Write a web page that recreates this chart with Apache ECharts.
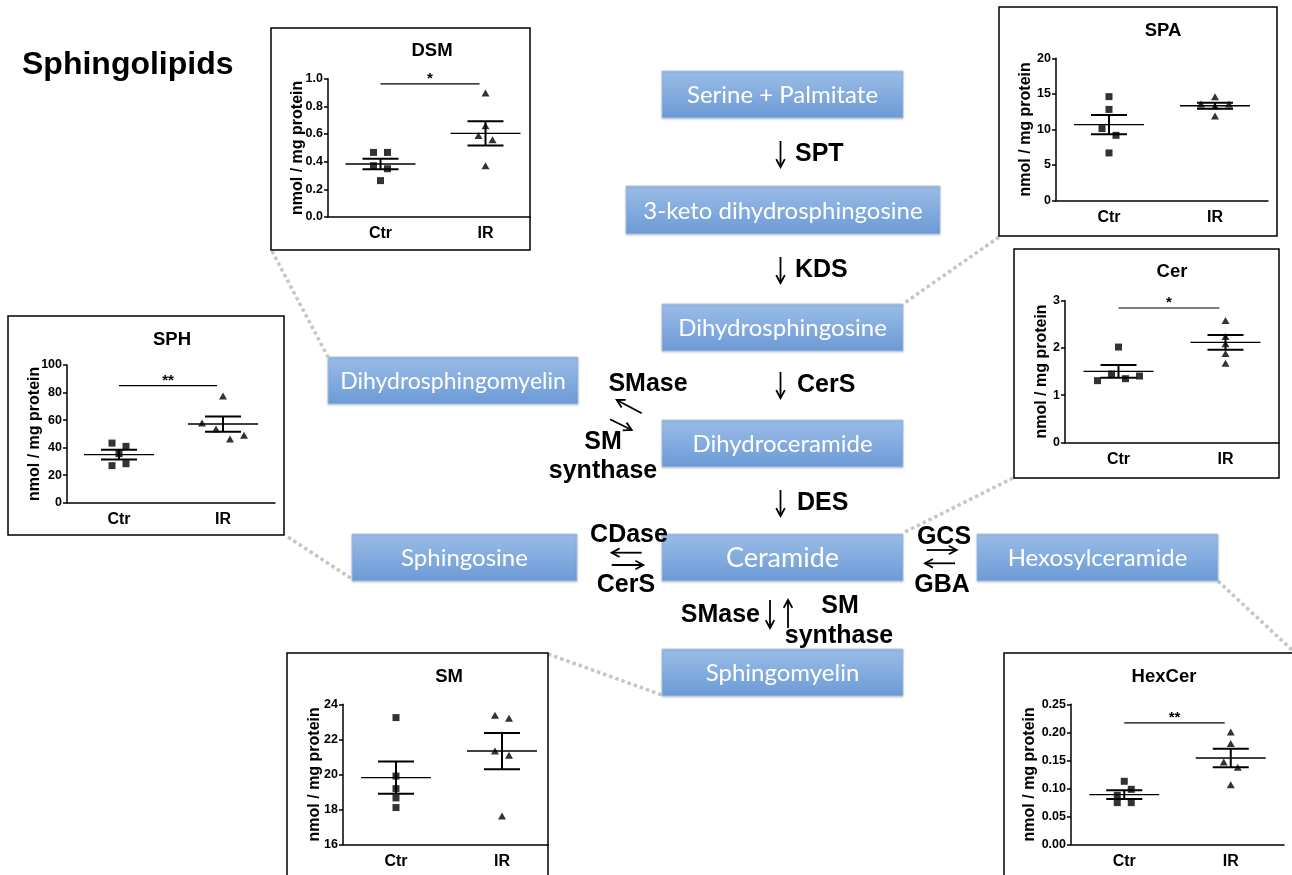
<!DOCTYPE html>
<html>
<head>
<meta charset="utf-8">
<script src="https://cdn.jsdelivr.net/npm/echarts@6/dist/echarts.min.js"></script>
<style>
  html, body { margin: 0; padding: 0; background: #fff; }
  #chart { width: 1292px; height: 875px; }
</style>
</head>
<body>
<div id="chart"></div>
<script>
// Sphingolipid levels (nmol / mg protein), control vs IR, five animals per group
const categories = ['Ctr', 'IR'];

const dsmCtr = [0.467, 0.467, 0.371, 0.349, 0.263];
const dsmIR = [0.896, 0.660, 0.590, 0.559, 0.371];
const dsmMean = [0.383, 0.605];
const dsmSem = [0.038, 0.088];

const spaCtr = [14.6, 12.8, 10.1, 9.15, 6.67];
const spaIR = [14.59, 13.56, 13.28, 13.56, 11.87];
const spaMean = [10.66, 13.32];
const spaSem = [1.36, 0.42];

const sphCtr = [43.3, 40.9, 35.6, 26.9, 28.3];
const sphIR = [77.5, 57.9, 53.5, 46.2, 48.9];
const sphMean = [34.9, 57.1];
const sphSem = [3.55, 5.55];

const cerCtr = [2.018, 1.306, 1.447, 1.348, 1.404];
const cerIR = [2.583, 2.244, 2.089, 1.884, 1.673];
const cerMean = [1.503, 2.117];
const cerSem = [0.134, 0.155];

const smCtr = [23.24, 19.90, 19.18, 18.65, 18.10];
const smIR = [23.37, 23.20, 21.33, 21.09, 17.62];
const smMean = [19.81, 21.33];
const smSem = [0.915, 1.035];

const hexCtr = [0.1125, 0.0875, 0.0982, 0.0744, 0.0744];
const hexIR = [0.2006, 0.1798, 0.147, 0.1375, 0.1065];
const hexMean = [0.0887, 0.1542];
const hexSem = [0.008, 0.0164];

const yTicks = {
  DSM: [0, 1, 0.2], SPA: [0, 20, 5], SPH: [0, 100, 20],
  Cer: [0, 3, 1], SM: [16, 24, 2], HexCer: [0, 0.25, 0.05]
};
const significance = { DSM: '*', SPH: '**', Cer: '*', HexCer: '**' };

// panel layout
const panels = [
  { name: 'DSM', ctr: dsmCtr, ir: dsmIR, mean: dsmMean, sem: dsmSem, dec: 1,
    frame: [271, 28, 259, 222], grid: [328, 78.7, 210, 138.3], title: [432, 51], nameGap: 22, sigLevel: 0.962 },
  { name: 'SPA', ctr: spaCtr, ir: spaIR, mean: spaMean, sem: spaSem, dec: 0,
    frame: [999, 7, 278, 229], grid: [1056, 58.3, 212, 142], title: [1163, 31], nameGap: 22 },
  { name: 'SPH', ctr: sphCtr, ir: sphIR, mean: sphMean, sem: sphSem, dec: 0,
    frame: [8, 316, 276, 219], grid: [67, 365, 208, 137.7], title: [172, 340], nameGap: 24.5, sigLevel: 85 },
  { name: 'Cer', ctr: cerCtr, ir: cerIR, mean: cerMean, sem: cerSem, dec: 0,
    frame: [1014, 249, 265, 229], grid: [1065, 300.7, 214, 141.6], title: [1172, 272], nameGap: 15, sigLevel: 2.845 },
  { name: 'SM', ctr: smCtr, ir: smIR, mean: smMean, sem: smSem, dec: 0,
    frame: [287, 653, 261, 240], grid: [343, 704.3, 212, 140], title: [449, 677], nameGap: 20.5 },
  { name: 'HexCer', ctr: hexCtr, ir: hexIR, mean: hexMean, sem: hexSem, dec: 2,
    frame: [1004, 653, 300, 240], grid: [1071, 704.3, 213, 140], title: [1164, 677], nameGap: 33, sigLevel: 0.217 }
];

const LABEL_FONT = '"Liberation Sans", Arial, sans-serif';
const BOX_FONT = 'Lato, "Open Sans", sans-serif';

// Spread points of similar value sideways, centred on the group (scatter dot plot style)
function jitterOffsets(values, range, heightPx, threshold, step) {
  const px = v => v * heightPx / range;
  const order = values.map((v, i) => i).sort((a, b) => values[b] - values[a]);
  const clusters = [];
  let cur = [order[0]];
  for (let k = 1; k < order.length; k++) {
    if (px(values[order[k - 1]]) - px(values[order[k]]) < threshold) cur.push(order[k]);
    else { clusters.push(cur); cur = [order[k]]; }
  }
  clusters.push(cur);
  const off = new Array(values.length).fill(0);
  clusters.forEach(c => {
    c.sort((a, b) => a - b);
    c.forEach((i, j) => { off[i] = (j - (c.length - 1) / 2) * step; });
  });
  return off;
}

const grids = [], xAxes = [], yAxes = [], series = [];

panels.forEach((p, gi) => {
  const [ymin, ymax, yint] = yTicks[p.name];
  const [gl, gt, gw, gh] = p.grid;
  grids.push({ left: gl, top: gt, width: gw, height: gh });
  xAxes.push({
    type: 'category', gridIndex: gi, data: categories, boundaryGap: true, z: 5,
    axisLine: { lineStyle: { color: '#000', width: 1.5 } },
    axisTick: { alignWithLabel: true, length: 5, lineStyle: { color: '#000', width: 1.5 } },
    axisLabel: { color: '#000', fontFamily: LABEL_FONT, fontWeight: 'bold', fontSize: 16, margin: 9 },
    splitLine: { show: false }
  });
  yAxes.push({
    type: 'value', gridIndex: gi, min: ymin, max: ymax, interval: yint, z: 5,
    name: 'nmol / mg protein', nameLocation: 'middle', nameGap: p.nameGap, nameMoveOverlap: false,
    nameTextStyle: { color: '#000', fontFamily: LABEL_FONT, fontWeight: 'bold', fontSize: 16 },
    axisLine: { show: true, lineStyle: { color: '#000', width: 1.5 } },
    axisTick: { show: true, length: 4, lineStyle: { color: '#000', width: 1.5 } },
    axisLabel: { color: '#000', fontFamily: LABEL_FONT, fontWeight: 'bold', fontSize: 12.5, margin: 5,
      formatter: v => v.toFixed(p.dec) },
    splitLine: { show: false }
  });

  const range = ymax - ymin;
  const groups = [
    { vals: p.ctr, symbol: 'rect', size: 7, thr: 7 },
    { vals: p.ir, symbol: 'triangle', size: [8, 7], thr: 6.5 }
  ];
  groups.forEach((g, ci) => {
    const off = jitterOffsets(g.vals, range, gh, g.thr, 14);
    series.push({
      type: 'scatter', xAxisIndex: gi, yAxisIndex: gi,
      symbol: g.symbol, symbolSize: g.size,
      itemStyle: { color: '#000' },
      data: g.vals.map((v, i) => ({ value: [ci, v], symbolOffset: [off[i], 0] })),
      z: 6, silent: true
    });
  });

  // mean with SEM whiskers
  series.push({
    type: 'custom', xAxisIndex: gi, yAxisIndex: gi, clip: false, z: 7, silent: true,
    data: p.mean.map((m, i) => [i, m, p.sem[i]]),
    encode: { x: 0, y: 1 },
    renderItem: (params, api) => {
      const x = api.value(0), m = api.value(1), s = api.value(2);
      const c = api.coord([x, m]);
      const hi = api.coord([x, m + s]);
      const lo = api.coord([x, m - s]);
      const st = { stroke: '#000', lineWidth: 2 };
      return { type: 'group', children: [
        { type: 'line', shape: { x1: c[0] - 35, y1: c[1], x2: c[0] + 35, y2: c[1] }, style: { stroke: '#000', lineWidth: 1.4 } },
        { type: 'line', shape: { x1: c[0], y1: hi[1], x2: c[0], y2: lo[1] }, style: st },
        { type: 'line', shape: { x1: c[0] - 18, y1: hi[1], x2: c[0] + 18, y2: hi[1] }, style: st },
        { type: 'line', shape: { x1: c[0] - 18, y1: lo[1], x2: c[0] + 18, y2: lo[1] }, style: st }
      ] };
    }
  });

  // significance bracket
  if (significance[p.name]) {
    series.push({
      type: 'custom', xAxisIndex: gi, yAxisIndex: gi, clip: false, z: 7, silent: true,
      data: [[0, p.sigLevel]],
      encode: { x: 0, y: 1 },
      renderItem: (params, api) => {
        const a = api.coord([0, api.value(1)]);
        const b = api.coord([1, api.value(1)]);
        return { type: 'group', children: [
          { type: 'line', shape: { x1: a[0], y1: a[1], x2: b[0] - 6, y2: a[1] }, style: { stroke: '#000', lineWidth: 1.2 } },
          { type: 'text', x: (a[0] + b[0] - 6) / 2, y: a[1] - 5,
            style: { text: significance[p.name], fill: '#000', font: 'bold 15px ' + LABEL_FONT, align: 'center', verticalAlign: 'middle' } }
        ] };
      }
    });
  }
});

// ---------- pathway diagram ----------
const graphics = [];
const boxFill = new echarts.graphic.LinearGradient(0, 0, 0, 1, [
  { offset: 0, color: '#9abde7' }, { offset: 1, color: '#6c9ad6' }
]);

function dotted(x1, y1, x2, y2) {
  graphics.push({ type: 'line', z: 1, shape: { x1, y1, x2, y2 },
    style: { stroke: '#c6c6c6', lineWidth: 3.5, lineDash: [3.5, 3] } });
}
function box(x, y, w, h, text, size) {
  graphics.push({ type: 'rect', z: 2, shape: { x, y, width: w, height: h },
    style: { fill: boxFill, stroke: '#a9c4e8', lineWidth: 1, shadowColor: 'rgba(0,0,0,0.15)', shadowBlur: 2, shadowOffsetY: 1 } });
  graphics.push({ type: 'text', z: 3, x: x + w / 2, y: y + h / 2 + 1,
    style: { text, fill: '#fff', font: (size || 24) + 'px ' + BOX_FONT, align: 'center', verticalAlign: 'middle' } });
}
function label(x, y, text, size, align) {
  graphics.push({ type: 'text', z: 3, x, y,
    style: { text, fill: '#000', font: 'bold ' + (size || 25) + 'px ' + LABEL_FONT, align: align || 'center', verticalAlign: 'middle' } });
}
function arrow(x1, y1, x2, y2) {
  const ang = Math.atan2(y2 - y1, x2 - x1);
  const L = 9, spread = 0.5;
  graphics.push({ type: 'line', z: 3, shape: { x1, y1, x2, y2 }, style: { stroke: '#000', lineWidth: 1.8 } });
  graphics.push({ type: 'polyline', z: 3, shape: { points: [
      [x2 - L * Math.cos(ang - spread), y2 - L * Math.sin(ang - spread)], [x2, y2],
      [x2 - L * Math.cos(ang + spread), y2 - L * Math.sin(ang + spread)] ] },
    style: { stroke: '#000', lineWidth: 1.8, fill: null } });
}

dotted(272, 251, 328, 357);
dotted(999, 237, 903, 304);
dotted(288, 537, 352, 579);
dotted(1013, 478, 903, 533);
dotted(548, 654, 662, 695);
dotted(1218, 581, 1292, 650);

// panel frames and titles
panels.forEach(p => {
  const [x, y, w, h] = p.frame;
  graphics.push({ type: 'rect', z: 1, shape: { x, y, width: w, height: h },
    style: { fill: 'rgba(0,0,0,0)', stroke: '#000', lineWidth: 1.5 } });
  // trim the x axis line at the panel border
  graphics.push({ type: 'rect', z: 100, shape: { x: x + w + 1, y: p.grid[1] + p.grid[3] - 4, width: 12, height: 12 },
    style: { fill: '#fff' } });
  graphics.push({ type: 'text', z: 3, x: p.title[0], y: p.title[1],
    style: { text: p.name, fill: '#000', font: 'bold 18.5px ' + LABEL_FONT, align: 'center', verticalAlign: 'middle' } });
});

box(662, 71, 241, 47, 'Serine + Palmitate');
box(626, 186, 314, 48, '3-keto dihydrosphingosine');
box(662, 304, 241, 47, 'Dihydrosphingosine');
box(662, 420, 241, 47, 'Dihydroceramide');
box(662, 534, 241, 47, 'Ceramide', 27);
box(662, 649, 241, 47, 'Sphingomyelin');
box(328, 357, 250, 47, 'Dihydrosphingomyelin', 23);
box(352, 534, 225, 47, 'Sphingosine');
box(977, 534, 241, 47, 'Hexosylceramide');

label(22, 65, 'Sphingolipids', 32, 'left');

// main chain
arrow(780.5, 141, 780.5, 167); label(795, 154, 'SPT', 25, 'left');
arrow(780.5, 257, 780.5, 283); label(795, 270, 'KDS', 25, 'left');
arrow(780.5, 372, 780.5, 398); label(797, 385, 'CerS', 25, 'left');
arrow(780.5, 490, 780.5, 516); label(797, 503, 'DES', 25, 'left');

// dihydroceramide <-> dihydrosphingomyelin
label(648, 384, 'SMase');
arrow(641.7, 413.3, 616.7, 400);
arrow(610, 419.3, 631.7, 430);
label(603, 442, 'SM');
label(603, 471, 'synthase');

// sphingosine <-> ceramide
label(629, 535, 'CDase');
arrow(641.7, 552.7, 611.7, 552.7);
arrow(611.7, 565, 643.3, 565);
label(626, 585, 'CerS');

// ceramide <-> hexosylceramide
label(944, 537, 'GCS');
arrow(926.7, 550, 956.7, 550);
arrow(955, 563.3, 925, 563.3);
label(942, 585, 'GBA');

// ceramide <-> sphingomyelin
label(760, 615, 'SMase', 25, 'right');
arrow(770, 600, 770, 628);
arrow(788, 628, 788, 600);
label(840, 606, 'SM');
label(839, 636, 'synthase');

const chart = echarts.init(document.getElementById('chart'), null, { renderer: 'canvas' });
chart.setOption({
  animation: false,
  backgroundColor: '#fff',
  graphic: graphics,
  grid: grids,
  xAxis: xAxes,
  yAxis: yAxes,
  series: series
});
</script>
</body>
</html>
